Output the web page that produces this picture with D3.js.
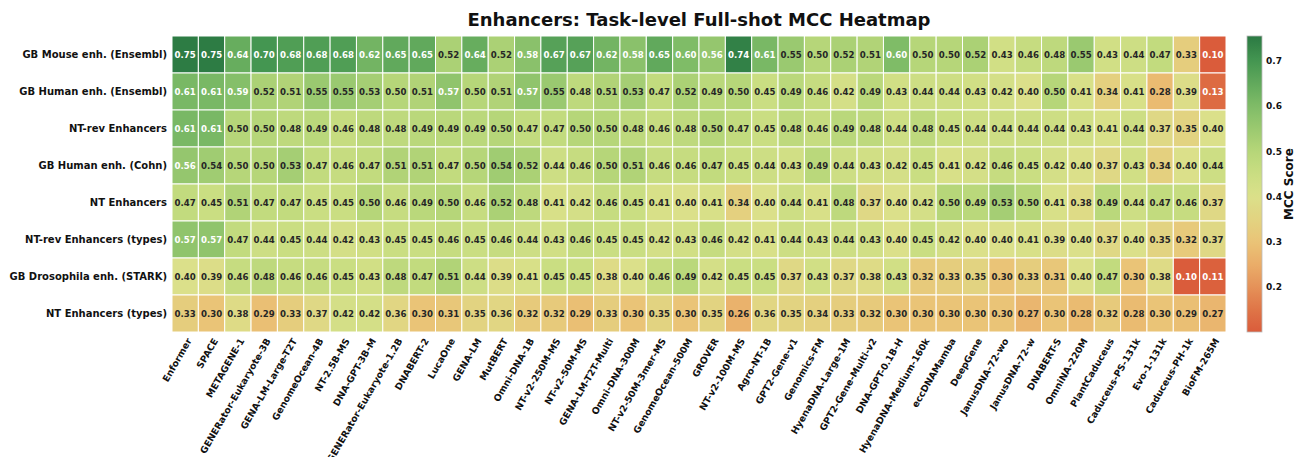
<!DOCTYPE html>
<html>
<head>
<meta charset="utf-8">
<script src="https://cdn.jsdelivr.net/npm/d3@7"></script>
<style>
  body { margin: 0; background: #fff; }
  svg { font-family: "DejaVu Sans", sans-serif; }
</style>
</head>
<body>
<svg id="chart" width="1295" height="457"></svg>
<script>
// ── Data ───────────────────────────────────────────────────────────────────
const tasks = [
  "GB Mouse enh. (Ensembl)", "GB Human enh. (Ensembl)", "NT-rev Enhancers",
  "GB Human enh. (Cohn)", "NT Enhancers", "NT-rev Enhancers (types)",
  "GB Drosophila enh. (STARK)", "NT Enhancers (types)"
];
const models = [
  "Enformer", "SPACE", "METAGENE-1", "GENERator-Eukaryote-3B", "GENA-LM-Large-T2T",
  "GenomeOcean-4B", "NT-2.5B-MS", "DNA-GPT-3B-M", "GENERator-Eukaryote-1.2B", "DNABERT-2",
  "LucaOne", "GENA-LM", "MutBERT", "Omni-DNA-1B", "NT-v2-250M-MS", "NT-v2-50M-MS",
  "GENA-LM-T2T-Multi", "Omni-DNA-300M", "NT-v2-50M-3mer-MS", "GenomeOcean-500M", "GROVER",
  "NT-v2-100M-MS", "Agro-NT-1B", "GPT2-Gene-v1", "Genomics-FM", "HyenaDNA-Large-1M",
  "GPT2-Gene-Multi-v2", "DNA-GPT-0.1B-H", "HyenaDNA-Medium-160k", "eccDNAMamba", "DeepGene",
  "JanusDNA-72-wo", "JanusDNA-72-w", "DNABERT-S", "OmniNA-220M", "PlantCaduceus",
  "Caduceus-PS-131k", "Evo-1-131k", "Caduceus-PH-1k", "BioFM-265M"
];
const mouseEnsembl = [0.75,0.75,0.64,0.70,0.68,0.68,0.68,0.62,0.65,0.65,0.52,0.64,0.52,0.58,0.67,0.67,0.62,0.58,0.65,0.60,0.56,0.74,0.61,0.55,0.50,0.52,0.51,0.60,0.50,0.50,0.52,0.43,0.46,0.48,0.55,0.43,0.44,0.47,0.33,0.10];
const humanEnsembl = [0.61,0.61,0.59,0.52,0.51,0.55,0.55,0.53,0.50,0.51,0.57,0.50,0.51,0.57,0.55,0.48,0.51,0.53,0.47,0.52,0.49,0.50,0.45,0.49,0.46,0.42,0.49,0.43,0.44,0.44,0.43,0.42,0.40,0.50,0.41,0.34,0.41,0.28,0.39,0.13];
const ntRevEnh     = [0.61,0.61,0.50,0.50,0.48,0.49,0.46,0.48,0.48,0.49,0.49,0.49,0.50,0.47,0.47,0.50,0.50,0.48,0.46,0.48,0.50,0.47,0.45,0.48,0.46,0.49,0.48,0.44,0.48,0.45,0.44,0.44,0.44,0.44,0.43,0.41,0.44,0.37,0.35,0.40];
const humanCohn    = [0.56,0.54,0.50,0.50,0.53,0.47,0.46,0.47,0.51,0.51,0.47,0.50,0.54,0.52,0.44,0.46,0.50,0.51,0.46,0.46,0.47,0.45,0.44,0.43,0.49,0.44,0.43,0.42,0.45,0.41,0.42,0.46,0.45,0.42,0.40,0.37,0.43,0.34,0.40,0.44];
const ntEnh        = [0.47,0.45,0.51,0.47,0.47,0.45,0.45,0.50,0.46,0.49,0.50,0.46,0.52,0.48,0.41,0.42,0.46,0.45,0.41,0.40,0.41,0.34,0.40,0.44,0.41,0.48,0.37,0.40,0.42,0.50,0.49,0.53,0.50,0.41,0.38,0.49,0.44,0.47,0.46,0.37];
const ntRevTypes   = [0.57,0.57,0.47,0.44,0.45,0.44,0.42,0.43,0.45,0.45,0.46,0.45,0.46,0.44,0.43,0.46,0.45,0.45,0.42,0.43,0.46,0.42,0.41,0.44,0.43,0.44,0.43,0.40,0.45,0.42,0.40,0.40,0.41,0.39,0.40,0.37,0.40,0.35,0.32,0.37];
const drosStark    = [0.40,0.39,0.46,0.48,0.46,0.46,0.45,0.43,0.48,0.47,0.51,0.44,0.39,0.41,0.45,0.45,0.38,0.40,0.46,0.49,0.42,0.45,0.45,0.37,0.43,0.37,0.38,0.43,0.32,0.33,0.35,0.30,0.33,0.31,0.40,0.47,0.30,0.38,0.10,0.11];
const ntEnhTypes   = [0.33,0.30,0.38,0.29,0.33,0.37,0.42,0.42,0.36,0.30,0.31,0.35,0.36,0.32,0.32,0.29,0.33,0.30,0.35,0.30,0.35,0.26,0.36,0.35,0.34,0.33,0.32,0.30,0.30,0.30,0.30,0.30,0.27,0.30,0.28,0.32,0.28,0.30,0.29,0.27];
const rowsData = [mouseEnsembl, humanEnsembl, ntRevEnh, humanCohn, ntEnh, ntRevTypes, drosStark, ntEnhTypes];
const cbTicks = [0.2, 0.3, 0.4, 0.5, 0.6, 0.7];

// ── Layout ─────────────────────────────────────────────────────────────────
const M = { top: 36, left: 172 };
const W = 1054, H = 296;
const svg = d3.select("#chart");
const g = svg.append("g").attr("transform", `translate(${M.left},${M.top})`);

const x = d3.scaleBand().domain(models).range([0, W]);
const y = d3.scaleBand().domain(tasks).range([0, H]);

// Colour ramp (red → yellow → green), vmin 0.10, vmax ~0.755
const vmin = 0.10, vmax = 0.755;
const color = d3.scaleLinear()
  .domain([0.10, 0.15, 0.20, 0.25, 0.30, 0.35, 0.40, 0.45, 0.50, 0.60, 0.70, 0.755])
  .range(["#da5c3b", "#df7547", "#e59259", "#eaad69", "#eac477", "#e2d381", "#dbe08a",
          "#cade82", "#b6d679", "#7fbc67", "#449651", "#2b7943"])
  .clamp(true);

const cells = [];
rowsData.forEach((vals, i) => vals.forEach((v, j) => cells.push({ task: tasks[i], model: models[j], v })));

g.selectAll("rect.cell")
  .data(cells)
  .join("rect").attr("class", "cell")
  .attr("x", d => x(d.model)).attr("y", d => y(d.task))
  .attr("width", x.bandwidth()).attr("height", y.bandwidth())
  .attr("fill", d => color(d.v))
  .attr("stroke", "#fff").attr("stroke-width", 1);

g.selectAll("text.val")
  .data(cells)
  .join("text").attr("class", "val")
  .attr("x", d => x(d.model) + x.bandwidth() / 2)
  .attr("y", d => y(d.task) + y.bandwidth() / 2)
  .attr("dy", "0.35em").attr("text-anchor", "middle")
  .attr("font-size", "8.6px").attr("font-weight", "bold")
  .attr("fill", d => (d.v >= 0.56 || d.v < 0.2) ? "#fff" : "#262626")
  .text(d => d.v.toFixed(2));

// Row labels
g.selectAll("text.row")
  .data(tasks)
  .join("text").attr("class", "row")
  .attr("x", -5).attr("y", d => y(d) + y.bandwidth() / 2)
  .attr("dy", "0.35em").attr("text-anchor", "end")
  .attr("font-size", "10px").attr("font-weight", "bold").attr("fill", "#111")
  .text(d => d);

// Column labels, rotated 60°
g.selectAll("text.col")
  .data(models)
  .join("text").attr("class", "col")
  .attr("transform", d => `translate(${x(d) + x.bandwidth() / 2 + 4},${H + 7}) rotate(-60)`)
  .attr("text-anchor", "end").attr("dy", "0.35em")
  .attr("font-size", "9.3px").attr("font-weight", "bold").attr("fill", "#111")
  .text(d => d);

// Title
svg.append("text")
  .attr("x", M.left + W / 2).attr("y", 26)
  .attr("text-anchor", "middle")
  .attr("font-size", "18px").attr("font-weight", "bold").attr("fill", "#111")
  .text("Enhancers: Task-level Full-shot MCC Heatmap");

// ── Colorbar ───────────────────────────────────────────────────────────────
const cbX = 1247, cbW = 15;
const cbY = d3.scaleLinear().domain([vmin, vmax]).range([M.top + H, M.top]);
const defs = svg.append("defs");
const grad = defs.append("linearGradient").attr("id", "cbgrad")
  .attr("x1", 0).attr("y1", 1).attr("x2", 0).attr("y2", 0);
d3.range(0, 1.0001, 0.025).forEach(t => {
  grad.append("stop").attr("offset", t).attr("stop-color", color(vmin + t * (vmax - vmin)));
});
svg.append("rect")
  .attr("x", cbX).attr("y", M.top).attr("width", cbW).attr("height", H)
  .attr("fill", "url(#cbgrad)").attr("stroke", "#bbb").attr("stroke-width", 0.8);

const cbAxis = svg.append("g").attr("transform", `translate(${cbX + cbW},0)`)
  .call(d3.axisRight(cbY).tickValues(cbTicks).tickSize(0).tickPadding(4).tickFormat(d3.format(".1f")));
cbAxis.select(".domain").remove();
cbAxis.selectAll("text")
  .attr("font-family", "DejaVu Sans, sans-serif")
  .attr("font-size", "9px").attr("font-weight", "bold").attr("fill", "#111");

svg.append("text")
  .attr("transform", `translate(1293,${M.top + H / 2}) rotate(-90)`)
  .attr("text-anchor", "middle")
  .attr("font-size", "12px").attr("font-weight", "bold").attr("fill", "#111")
  .text("MCC Score");
</script>
</body>
</html>
